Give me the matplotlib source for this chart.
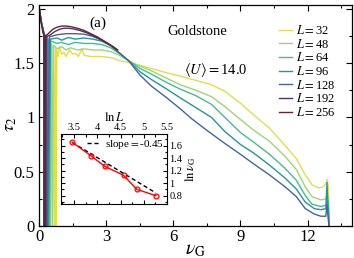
import numpy as np
import matplotlib
matplotlib.use("Agg")
import matplotlib.pyplot as plt
from matplotlib.ticker import MultipleLocator

plt.rcParams["font.family"] = ["Liberation Serif", "DejaVu Serif"]
plt.rcParams["mathtext.fontset"] = "stix"

# tau_2 vs nu_G, one curve per system size L
sizes = [32, 48, 64, 96, 128, 192, 256]
colors = ["#e4dc4e", "#9ed574", "#45bd8e", "#25969c", "#45649c", "#4c3466", "#5e2638"]

nu_32 = [0.0, 0.1, 0.2, 0.3, 0.32, 0.36, 0.4, 0.45, 0.5, 0.55, 0.6, 0.64, 0.68, 0.72, 0.75, 0.78,
         0.85, 0.9, 1.0, 1.1, 1.2, 1.35, 1.5, 1.6, 1.75, 1.9, 2.0, 2.3, 2.7, 3.0, 3.3, 3.6, 4.0,
         4.5, 5.0, 5.7, 6.3, 7.0, 7.7, 8.3, 9.0, 9.6, 10.3, 11.0, 11.5, 11.9, 12.2, 12.5, 12.7,
         12.82, 12.88, 12.93, 12.97]
tau_32 = [2.0, 1.87, 1.78, 1.75, 0.0, 1.72, 0.0, 1.70, 0.0, 1.68, 0.0, 1.66, 0.0, 1.64, 0.0, 1.62,
          1.56, 1.65, 1.58, 1.60, 1.56, 1.62, 1.58, 1.59, 1.56, 1.63, 1.57, 1.56, 1.56, 1.555, 1.545,
          1.52, 1.505, 1.48, 1.45, 1.41, 1.38, 1.34, 1.30, 1.24, 1.13, 1.02, 0.90, 0.74, 0.62,
          0.47, 0.38, 0.35, 0.36, 0.39, 0.43, 0.36, 0.0]

nu_48 = [0.0, 0.1, 0.2, 0.28, 0.31, 0.35, 0.39, 0.44, 0.48, 0.53, 0.58, 0.62, 0.65, 0.8, 1.0, 1.2,
         1.4, 1.7, 2.0, 2.4, 2.8, 3.2, 3.6, 4.0, 4.5, 5.0, 5.7, 6.3, 7.0, 7.7, 8.3, 9.0, 9.6, 10.3,
         11.0, 11.5, 11.9, 12.2, 12.6, 12.82, 12.88, 12.93, 12.97]
tau_48 = [2.0, 1.87, 1.78, 1.75, 0.0, 1.72, 0.0, 1.70, 0.0, 1.68, 0.0, 1.66, 1.66, 1.63, 1.65, 1.62,
          1.64, 1.62, 1.63, 1.62, 1.62, 1.605, 1.57, 1.52, 1.47, 1.43, 1.36, 1.30, 1.25, 1.19, 1.10,
          0.98, 0.88, 0.78, 0.64, 0.52, 0.36, 0.27, 0.24, 0.25, 0.30, 0.24, 0.0]

nu_64 = [0.0, 0.1, 0.2, 0.27, 0.3, 0.34, 0.38, 0.42, 0.46, 0.5, 0.55, 0.8, 1.0, 1.3, 1.6, 2.0, 2.4,
         2.8, 3.2, 3.6, 4.0, 4.5, 5.0, 5.7, 6.3, 7.0, 7.7, 8.3, 9.0, 9.6, 10.3, 11.0, 11.5, 11.9,
         12.2, 12.6, 12.82, 12.88, 12.93, 12.97]
tau_64 = [2.0, 1.87, 1.78, 1.75, 0.0, 1.73, 0.0, 1.71, 0.0, 1.70, 1.70, 1.68, 1.69, 1.67, 1.69,
          1.68, 1.68, 1.67, 1.64, 1.585, 1.52, 1.45, 1.40, 1.32, 1.26, 1.20, 1.12, 1.00, 0.86, 0.77,
          0.66, 0.53, 0.42, 0.28, 0.20, 0.18, 0.19, 0.25, 0.18, 0.0]

nu_96 = [0.0, 0.1, 0.2, 0.25, 0.28, 0.31, 0.34, 0.37, 0.4, 0.5, 0.8, 1.0, 1.3, 1.6, 2.0, 2.4, 2.8,
         3.2, 3.6, 4.0, 4.5, 5.0, 5.7, 6.3, 7.0, 7.7, 8.3, 9.0, 9.6, 10.3, 11.0, 11.5, 11.9, 12.3,
         12.6, 12.82, 12.87, 12.92, 12.97]
tau_96 = [2.0, 1.87, 1.78, 1.75, 0.0, 1.74, 0.0, 1.73, 0.0, 1.72, 1.73, 1.71, 1.735, 1.72, 1.73,
          1.72, 1.70, 1.66, 1.59, 1.52, 1.42, 1.35, 1.26, 1.18, 1.09, 1.00, 0.87, 0.75, 0.67, 0.56,
          0.44, 0.34, 0.22, 0.16, 0.15, 0.16, 0.40, 0.15, 0.0]

nu_128 = [0.0, 0.1, 0.2, 0.23, 0.26, 0.29, 0.32, 0.35, 0.45, 0.8, 1.2, 1.6, 2.0, 2.4, 2.8, 3.2, 3.6,
          4.0, 4.5, 5.0, 5.7, 6.3, 6.8, 7.5, 8.3, 9.0, 9.6, 10.3, 11.0, 11.5, 11.9, 12.3, 12.6,
          12.82, 12.87, 12.92, 12.96]
tau_128 = [2.0, 1.87, 1.78, 0.0, 1.75, 0.0, 1.75, 0.0, 1.74, 1.76, 1.77, 1.77, 1.765, 1.745, 1.71,
           1.66, 1.59, 1.52, 1.39, 1.29, 1.18, 1.08, 0.99, 0.88, 0.76, 0.66, 0.57, 0.47, 0.36, 0.27,
           0.16, 0.11, 0.09, 0.09, 0.20, 0.08, 0.0]

nu_192 = [0.0, 0.1, 0.2, 0.22, 0.25, 0.28, 0.31, 0.5, 0.7, 0.9, 1.1, 1.3, 1.5, 1.8, 2.1, 2.4, 2.7,
          3.0, 3.3, 3.5]
tau_192 = [2.0, 1.86, 1.77, 0.0, 1.75, 0.0, 1.74, 1.76, 1.79, 1.81, 1.82, 1.82, 1.815, 1.80, 1.78,
           1.75, 1.72, 1.685, 1.65, 1.62]

nu_256 = [0.0, 0.08, 0.16, 0.22, 0.24, 0.27, 0.3, 0.4, 0.6, 0.8, 1.0, 1.2, 1.4, 1.7, 2.0, 2.3, 2.6,
          3.0, 3.3, 3.5]
tau_256 = [2.0, 1.88, 1.78, 1.75, 0.0, 1.74, 1.75, 1.77, 1.81, 1.83, 1.84, 1.84, 1.835, 1.82, 1.80,
           1.77, 1.74, 1.69, 1.65, 1.62]

curves = [(nu_32, tau_32), (nu_48, tau_48), (nu_64, tau_64), (nu_96, tau_96),
          (nu_128, tau_128), (nu_192, tau_192), (nu_256, tau_256)]

# inset: ln(nu_G) at the crossing vs ln L
inset_L = [32, 48, 64, 96, 128, 192]
inset_lnnu = [1.654, 1.435, 1.27, 1.126, 0.90, 0.80]
fit_slope = -0.45
fit_intercept = 3.21

fig = plt.figure(figsize=(3.54, 2.58), dpi=100)
ax = fig.add_axes([0.111, 0.124, 0.884, 0.855])

for (x, y), L, c in zip(curves, sizes, colors):
    ax.plot(x, y, color=c, lw=1.0, label=f"$L$$=${L}")

ax.set_xlim(0, 14)
ax.set_ylim(0, 2.03)
ax.xaxis.set_major_locator(MultipleLocator(3))
ax.xaxis.set_minor_locator(MultipleLocator(1.5))
ax.yaxis.set_major_locator(MultipleLocator(0.5))
ax.yaxis.set_minor_locator(MultipleLocator(0.25))
ax.set_yticks([0, 0.5, 1, 1.5, 2], ["0", "0.5", "1", "1.5", "2"])
ax.tick_params(which="both", direction="in", top=True, right=True, labelsize=12, width=0.8)
ax.tick_params(which="major", length=4)
ax.tick_params(which="minor", length=2.5)
ax.tick_params(axis="x", pad=2)
for s in ax.spines.values():
    s.set_linewidth(0.9)
ax.set_xlabel(r"$\nu_{\mathrm{G}}$", fontsize=14, labelpad=-2)
ax.set_ylabel(r"$\tau_2$", fontsize=13)
ax.yaxis.set_label_coords(-0.065, 0.46)

ax.text(0.188, 0.918, "(a)", transform=ax.transAxes, fontsize=11, ha="center", va="center")
ax.text(0.504, 0.881, "Goldstone", transform=ax.transAxes, fontsize=10.5, ha="center", va="center")
ax.text(0.565, 0.705, r"$\langle U\rangle$$=$14.0", transform=ax.transAxes, fontsize=10.5,
        ha="center", va="center")

ax.legend(loc="upper left", bbox_to_anchor=(0.765, 0.915), frameon=False, fontsize=9,
          handlelength=1.1, handletextpad=0.3, labelspacing=0.05, borderpad=0, borderaxespad=0)

# inset
axi = fig.add_axes([0.172, 0.209, 0.300, 0.270])
lnL = np.log(inset_L)
axi.plot(lnL, fit_intercept + fit_slope * lnL, color="black", lw=1.0, ls=(0, (3, 2)),
         label="slope$=$-0.45")
axi.plot(lnL, inset_lnnu, color="red", lw=1.0, marker="o", ms=3.5, mfc="none", mew=0.9)
axi.set_xlim(3.22, 5.5)
axi.set_ylim(0.665, 1.78)
axi.xaxis.set_major_locator(MultipleLocator(0.5))
axi.xaxis.set_minor_locator(MultipleLocator(0.25))
axi.yaxis.set_major_locator(MultipleLocator(0.2))
axi.yaxis.set_minor_locator(MultipleLocator(0.1))
axi.set_xticks([3.5, 4, 4.5, 5, 5.5], ["3.5", "4", "4.5", "5", "5.5"])
axi.set_yticks([0.8, 1, 1.2, 1.4, 1.6], ["0.8", "1", "1.2", "1.4", "1.6"])
axi.tick_params(which="both", direction="in", top=True, right=True, bottom=True, left=True,
                labeltop=True, labelbottom=False, labelright=True, labelleft=False,
                labelsize=7.5, pad=1.5, width=0.8)
axi.tick_params(which="major", length=3)
axi.tick_params(which="minor", length=1.8)
axi.xaxis.set_label_position("top")
axi.yaxis.set_label_position("right")
axi.set_xlabel(r"$\ln L$", fontsize=9, labelpad=1.5)
axi.set_ylabel(r"$\ln \nu_{\mathrm{G}}$", fontsize=9, labelpad=1)
axi.legend(loc="upper right", frameon=False, fontsize=8, handlelength=1.2, handletextpad=0.4,
           borderpad=0.2, borderaxespad=0.1)

fig.savefig("out.png", dpi=100)
